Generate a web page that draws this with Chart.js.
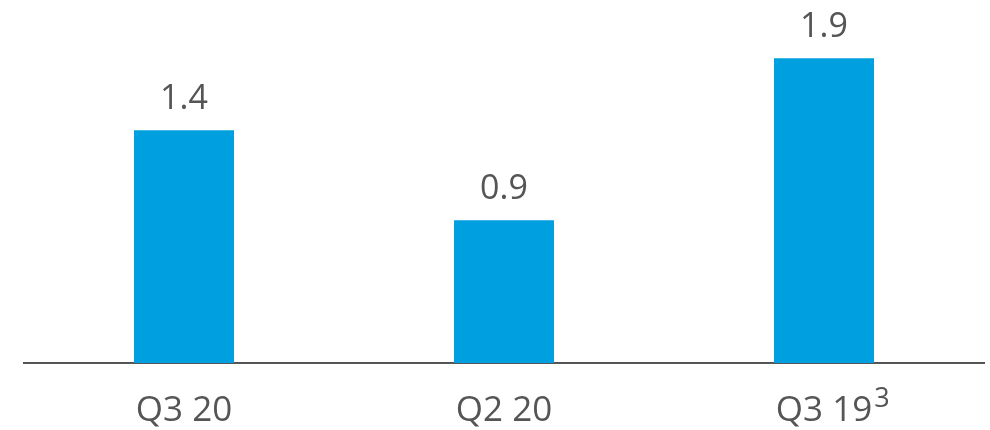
<!DOCTYPE html>
<html><head><meta charset="utf-8">
<script src="https://cdn.jsdelivr.net/npm/chart.js@4/dist/chart.umd.min.js"></script>
<style>html,body{margin:0;padding:0;background:#fff}#wrap{width:990px;height:430px}</style>
</head><body><div id="wrap"><canvas id="c"></canvas></div>
<script>
const categories = ['Q3 20', 'Q2 20', 'Q3 19'];
const footnotes = ['', '', '3'];
const values = [1.45, 0.89, 1.9];
const valueLabels = ['1.4', '0.9', '1.9'];

const FONT = '"Open Sans", "Noto Sans", sans-serif';
const TEXT = '#555555';

const labelsPlugin = {
  id: 'labels',
  afterDatasetsDraw(chart) {
    const ctx = chart.ctx;
    const meta = chart.getDatasetMeta(0);
    const xs = chart.scales.x;
    ctx.save();
    ctx.fillStyle = TEXT;
    ctx.font = '400 34px ' + FONT;
    ctx.textAlign = 'center';
    ctx.textBaseline = 'alphabetic';
    meta.data.forEach((bar, i) => {
      ctx.fillText(valueLabels[i], bar.x, bar.y - 21);
    });
    const base = chart.chartArea.bottom + 58;
    categories.forEach((c, i) => {
      const x = xs.getPixelForValue(i);
      ctx.font = '400 35px ' + FONT;
      ctx.textAlign = 'center';
      ctx.fillText(c, x, base);
      if (footnotes[i]) {
        const w = ctx.measureText(c).width;
        ctx.font = '400 27px ' + FONT;
        ctx.textAlign = 'left';
        ctx.fillText(footnotes[i], x + w / 2 + 2, base - 14);
      }
    });
    ctx.restore();
  }
};

new Chart(document.getElementById('c'), {
  type: 'bar',
  data: {
    labels: categories,
    datasets: [{
      data: values,
      backgroundColor: '#009fdf',
      borderWidth: 0,
      barPercentage: 0.3125,
      categoryPercentage: 1.0
    }]
  },
  options: {
    responsive: true,
    maintainAspectRatio: false,
    animation: false,
    layout: { padding: { left: 24, right: 6, top: 10, bottom: 59 } },
    plugins: { legend: { display: false }, tooltip: { enabled: false } },
    scales: {
      x: {
        grid: { display: false },
        border: { display: true, color: '#555', width: 2 },
        ticks: { display: false }
      },
      y: {
        display: false,
        min: 0,
        max: 2.2
      }
    }
  },
  plugins: [labelsPlugin]
});
</script>
</body></html>
